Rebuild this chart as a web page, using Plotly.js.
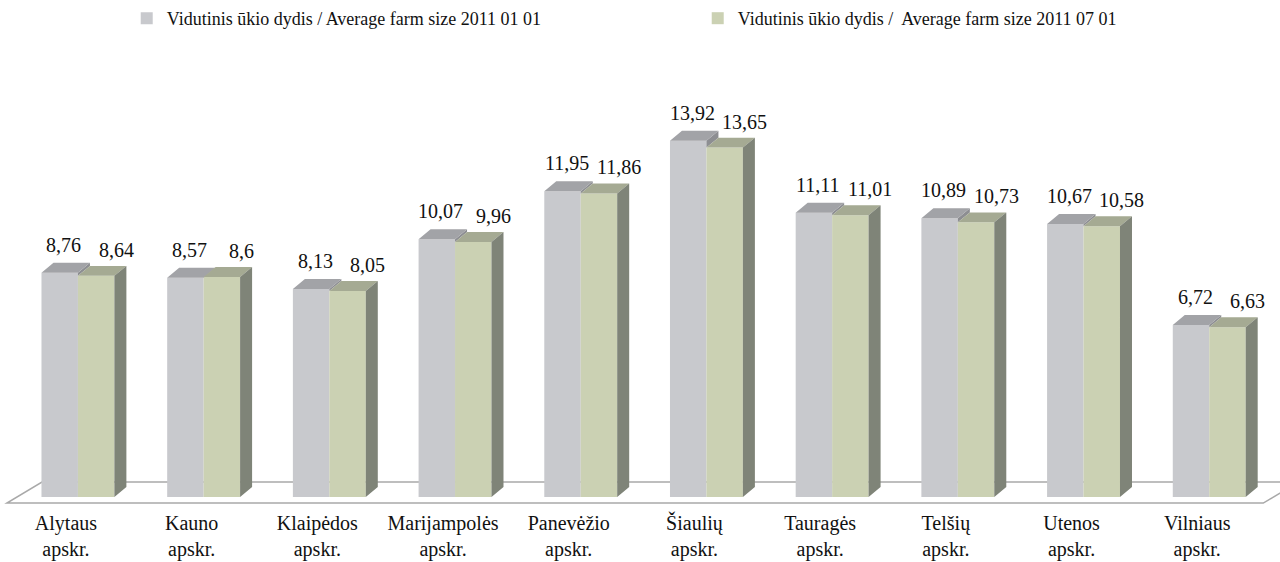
<!DOCTYPE html>
<html>
<head>
<meta charset="utf-8">
<script src="https://cdn.plot.ly/plotly-3.0.1.min.js"></script>
<style>html,body{margin:0;padding:0;background:#fff;}#chart{width:1280px;height:562px;}</style>
</head>
<body>
<div id="chart"></div>
<script>
// ---- data ----
const regions = ['Alytaus','Kauno','Klaipėdos','Marijampolės','Panevėžio','Šiaulių','Tauragės','Telšių','Utenos','Vilniaus'];
const regionSuffix = 'apskr.';
const seriesNames = ['Vidutinis ūkio dydis / Average farm size 2011 01 01', 'Vidutinis ūkio dydis /  Average farm size 2011 07 01'];
const jan2011 = [8.76, 8.57, 8.13, 10.07, 11.95, 13.92, 11.11, 10.89, 10.67, 6.72];
const jul2011 = [8.64, 8.6, 8.05, 9.96, 11.86, 13.65, 11.01, 10.73, 10.58, 6.63];

// ---- styling ----
const W = 0.29;        // bar width (category units)
const DX = 0.0955;     // 3D depth, x (category units)
const DY = 0.39;       // 3D depth, y (value units)
const FONT = 'Liberation Serif';
const grayFront = '#c8c9cd', grayTop = '#a2a3a7', graySide = '#8d8e92';
const greenFront = '#cbd1b3', greenTop = '#a5aa93', greenSide = '#7f8478';

const xs = regions.map((_, i) => i);
const fmt = v => String(v).replace('.', ',');

function topFaces(vals, off) {
  const X = [], Y = [];
  vals.forEach((v, i) => {
    const x0 = i + off, x1 = x0 + W;
    X.push(x0, x1, x1 + DX, x0 + DX, x0, null);
    Y.push(v, v, v + DY, v + DY, v, null);
  });
  return {X, Y};
}
function sideFaces(vals, lows, off) {
  const X = [], Y = [];
  vals.forEach((v, i) => {
    const lo = lows ? lows[i] : 0;
    if (v <= lo) return;
    const x1 = i + off + W;
    X.push(x1, x1 + DX, x1 + DX, x1, x1, null);
    Y.push(lo, lo + DY, v + DY, v, lo, null);
  });
  return {X, Y};
}
function poly(p, color) {
  return {type: 'scatter', mode: 'lines', x: p.X, y: p.Y, fill: 'toself', fillcolor: color,
          line: {width: 0, color: color}, hoverinfo: 'skip', showlegend: false};
}

const gTop = topFaces(jan2011, -W), gSide = sideFaces(jan2011, jul2011, -W);
const vTop = topFaces(jul2011, 0), vSide = sideFaces(jul2011, null, 0);

const traces = [
  {type: 'bar', name: seriesNames[0], x: xs, y: jan2011, offset: -W, width: W,
   marker: {color: grayFront, line: {width: 0}}, hoverinfo: 'y'},
  {type: 'bar', name: seriesNames[1], x: xs, y: jul2011, offset: 0, width: W,
   marker: {color: greenFront, line: {width: 0}}, hoverinfo: 'y'},
  poly(gSide, graySide),
  poly(gTop, grayTop),
  poly(vTop, greenTop),
  poly(vSide, greenSide)
];

const annotations = [];
jan2011.forEach((v, i) => annotations.push({x: i - W / 2, y: v, text: fmt(v), showarrow: false,
  xshift: 4, yshift: 28, font: {family: FONT, size: 20, color: '#111'}}));
jul2011.forEach((v, i) => annotations.push({x: i + W / 2, y: v, text: fmt(v), showarrow: false,
  xshift: 20, yshift: 26, font: {family: FONT, size: 20, color: '#111'}}));

const FY = -0.234, BY = 0.586;
const layout = {
  width: 1280, height: 562,
  margin: {l: 0, r: 0, t: 46, b: 56, pad: 0},
  paper_bgcolor: '#fff', plot_bgcolor: '#fff',
  font: {family: FONT},
  showlegend: true,
  legend: {orientation: 'h', x: 0.099, xanchor: 'left', y: 1.1, yanchor: 'top',
    font: {family: FONT, size: 18, color: '#111'}, entrywidth: 526, entrywidthmode: 'pixels',
    bgcolor: 'rgba(0,0,0,0)'},
  xaxis: {range: [-0.62, 9.563], tickvals: xs, ticktext: regions.map(r => r + '<br>' + regionSuffix),
    showgrid: false, zeroline: false, showline: false, ticks: '', fixedrange: true, automargin: false,
    ticklabelshift: -12, ticklabelstandoff: 3,
    tickfont: {family: FONT, size: 20, color: '#111'}},
  yaxis: {range: [-0.35, 17.62], visible: false, showgrid: false, zeroline: false, fixedrange: true},
  shapes: [{type: 'path', xref: 'x', yref: 'y', layer: 'below',
    path: `M -0.565 ${FY} L 9.43 ${FY} L 9.71 ${BY} L -0.286 ${BY} Z`,
    fillcolor: '#fff', line: {color: '#a9a9a9', width: 1.5}}],
  annotations: annotations
};

Plotly.newPlot('chart', traces, layout, {displayModeBar: false, staticPlot: true});
</script>
</body>
</html>
